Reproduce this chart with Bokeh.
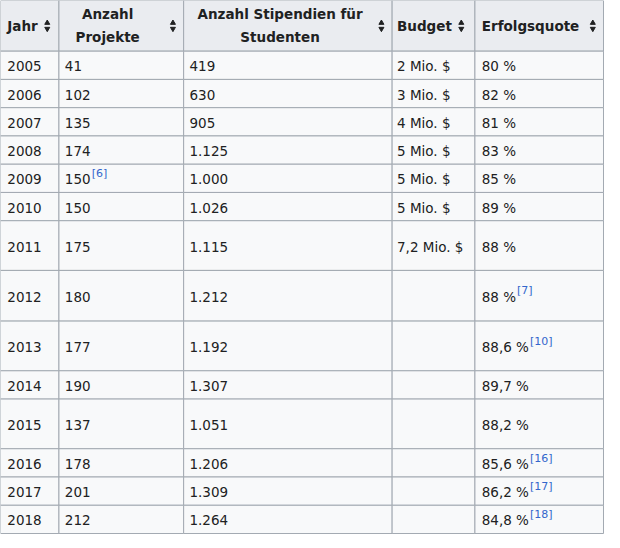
from bokeh.plotting import figure
from bokeh.models import Range1d
from bokeh.core.properties import value
from bokeh.embed import file_html
from bokeh.resources import INLINE

# Daten der Tabelle
jahre = ["2005", "2006", "2007", "2008", "2009", "2010", "2011", "2012",
         "2013", "2014", "2015", "2016", "2017", "2018"]
projekte = ["41", "102", "135", "174", "150", "150", "175", "180", "177",
            "190", "137", "178", "201", "212"]
projekte_ref = ["", "", "", "", "[6]", "", "", "", "", "", "", "", "", ""]
stipendien = ["419", "630", "905", "1.125", "1.000", "1.026", "1.115", "1.212",
              "1.192", "1.307", "1.051", "1.206", "1.309", "1.264"]
budget = ["2 Mio. $", "3 Mio. $", "4 Mio. $", "5 Mio. $", "5 Mio. $", "5 Mio. $",
          "7,2 Mio. $", "", "", "", "", "", "", ""]
quote = ["80 %", "82 %", "81 %", "83 %", "85 %", "89 %", "88 %", "88 %",
         "88,6 %", "89,7 %", "88,2 %", "85,6 %", "86,2 %", "84,8 %"]
quote_ref = ["", "", "", "", "", "", "", "[7]", "[10]", "", "", "[16]", "[17]", "[18]"]
kopf = ["Jahr", "Anzahl\nProjekte", "Anzahl Stipendien für\nStudenten", "Budget", "Erfolgsquote"]

# Layout (Pixel der Vorlage)
spalten = [0, 60, 188, 402, 487, 619]
zeilen = [0, 52, 81, 110, 139, 168, 197, 226, 277, 329, 380, 409, 460, 489, 518, 547]

FONT = "DejaVu Sans"
GR = "13.5px"
BORDER = "#a2a9b1"

p = figure(width=604, height=534, output_backend="svg", toolbar_location=None,
           x_range=Range1d(0, 620), y_range=Range1d(548, 0),
           min_border=0, outline_line_color=None)
p.axis.visible = False
p.grid.visible = False
p.background_fill_color = "white"

# Zellen
xs, ys, ws, hs, farbe = [], [], [], [], []
for r in range(len(zeilen) - 1):
    for c in range(len(spalten) - 1):
        xs.append((spalten[c] + spalten[c + 1]) / 2)
        ys.append((zeilen[r] + zeilen[r + 1]) / 2)
        ws.append(spalten[c + 1] - spalten[c])
        hs.append(zeilen[r + 1] - zeilen[r])
        farbe.append("#eaecf0" if r == 0 else "#f8f9fa")
p.rect(xs, ys, ws, hs, fill_color=farbe, line_color=BORDER, line_width=1)

# Kopfzeile
kx = [7, 110, 287, 407, 494]
kalign = ["left", "center", "center", "left", "left"]
for t, x, a in zip(kopf, kx, kalign):
    p.text([x], [26], text=[t], text_font=value(FONT), text_font_size=GR,
           text_font_style="bold", text_align=a, text_baseline="middle",
           text_color="#202122", text_line_height=1.45)

# Sortier-Symbole
icon_x = [48, 177, 391, 473, 608]
p.scatter(icon_x, [23] * 5, marker="triangle", size=5, color="#202122")
p.scatter(icon_x, [29] * 5, marker="inverted_triangle", size=5, color="#202122")

# Körper
mitte = [(zeilen[i] + zeilen[i + 1]) / 2 + 1 for i in range(1, len(zeilen) - 1)]
for werte, x in zip([jahre, projekte, stipendien, budget, quote], [7, 66, 194, 407, 494]):
    p.text([x] * len(werte), mitte, text=werte, text_font=value(FONT), text_font_size=GR,
           text_align="left", text_baseline="middle", text_color="#202122")

breite = {"%": 12.3, " ": 4.1, ",": 4.1, ".": 4.1}
def textbreite(s):
    return sum(breite.get(ch, 8.3) for ch in s) * 13.5 / 13 / 0.974

for werte, refs, x in [(projekte, projekte_ref, 66), (quote, quote_ref, 494)]:
    rx, ry, rt = [], [], []
    for w, r, y in zip(werte, refs, mitte):
        if r:
            rx.append(x + textbreite(w) + 1)
            ry.append(y - 6)
            rt.append(r)
    p.text(rx, ry, text=rt, text_font=value(FONT), text_font_size="11px",
           text_align="left", text_baseline="middle", text_color="#3366cc")

open("out.html", "w").write(file_html(p, INLINE))
